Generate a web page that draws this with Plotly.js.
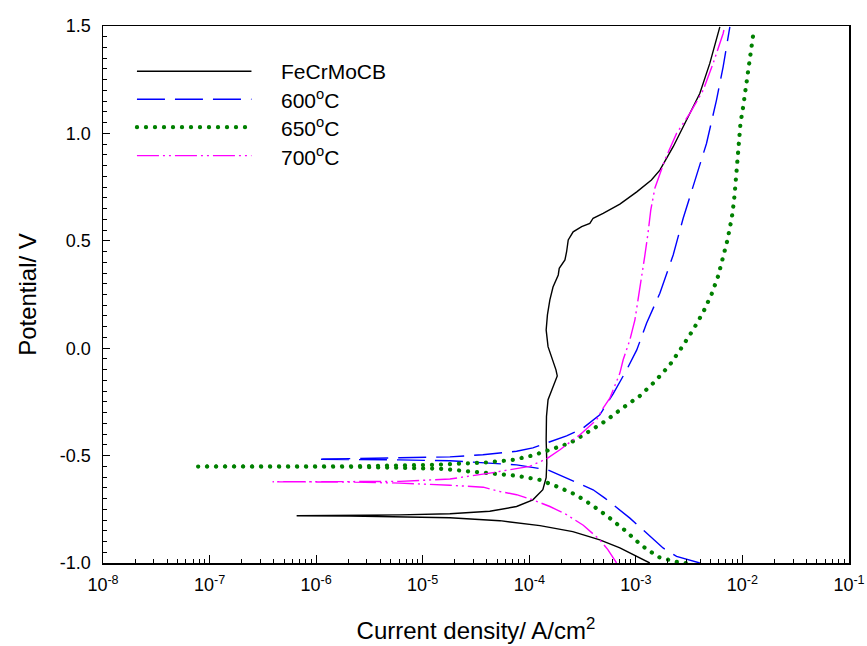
<!DOCTYPE html>
<html>
<head>
<meta charset="utf-8">
<script src="https://cdn.plot.ly/plotly-3.0.1.min.js"></script>
<style>html,body{margin:0;padding:0;background:#fff;}#chart{width:867px;height:646px;}</style>
</head>
<body>
<div id="chart"></div>
<script>
// ---- data: current density (A/cm^2) and potential (V) ----
const fecrmocbI = [1.35e-3,1.02e-3,7.08e-4,4.59e-4,2.56e-4,1.26e-4,5.30e-5,1.80e-5,6.11e-6,2.07e-6,6.56e-7,
  2.07e-6,6.11e-6,1.80e-5,4.26e-5,7.60e-5,1.08e-4,1.34e-4,1.44e-4,1.46e-4,1.44e-4,1.45e-4,1.50e-4,1.63e-4,1.83e-4,1.78e-4,1.62e-4,1.50e-4,1.44e-4,1.48e-4,1.56e-4,1.67e-4,1.87e-4,1.91e-4,2.16e-4,2.24e-4,2.32e-4,2.58e-4,3.10e-4,3.70e-4,3.97e-4,4.93e-4,7.08e-4,1.02e-3,1.40e-3,1.68e-3,2.24e-3,2.99e-3,3.98e-3,4.94e-3,6.14e-3];
const fecrmocbE = [-1.000,-0.969,-0.930,-0.892,-0.854,-0.826,-0.803,-0.789,-0.784,-0.781,-0.780,
  -0.779,-0.776,-0.771,-0.759,-0.737,-0.706,-0.659,-0.603,-0.534,-0.426,-0.318,-0.240,-0.194,-0.129,-0.101,-0.039,0.007,0.085,0.155,0.225,0.285,0.341,0.372,0.411,0.449,0.504,0.542,0.566,0.581,0.605,0.628,0.671,0.728,0.783,0.829,0.938,1.062,1.186,1.326,1.496];

const t600I = [3.98e-3,2.41e-3,1.80e-3,1.09e-3,8.79e-4,5.12e-4,3.97e-4,2.24e-4,1.49e-4,7.60e-5,1.80e-5,6.11e-6,1.01e-6,
  6.11e-6,1.80e-5,3.67e-5,7.60e-5,1.08e-4,1.56e-4,2.24e-4,3.10e-4,4.59e-4,6.12e-4,8.19e-4,1.02e-3,1.26e-3,1.68e-3,2.24e-3,2.78e-3,3.44e-3,4.60e-3,5.71e-3,6.59e-3,7.62e-3];
const t600E = [-1.000,-0.969,-0.930,-0.830,-0.791,-0.698,-0.659,-0.605,-0.566,-0.543,-0.524,-0.520,-0.517,
  -0.510,-0.506,-0.496,-0.480,-0.464,-0.436,-0.408,-0.377,-0.310,-0.213,-0.101,-0.008,0.116,0.256,0.434,0.605,0.752,0.953,1.155,1.310,1.496];

const t650I = [2.94e-3,2.41e-3,1.62e-3,1.13e-3,7.89e-4,5.50e-4,3.84e-4,2.68e-4,1.80e-4,1.26e-4,7.60e-5,3.97e-5,1.45e-5,2.07e-6,7.8e-8,
  2.07e-6,1.25e-5,3.97e-5,7.01e-5,1.08e-4,1.56e-4,2.40e-4,3.44e-4,5.12e-4,7.35e-4,1.09e-3,1.51e-3,2.08e-3,2.69e-3,3.44e-3,4.28e-3,5.13e-3,5.92e-3,6.59e-3,7.24e-3,7.78e-3,8.07e-3,8.43e-3,8.81e-3,9.18e-3,9.59e-3,1.016e-2,1.07e-2,1.13e-2,1.19e-2,1.26e-2];
const t650E = [-1.000,-0.995,-0.972,-0.918,-0.848,-0.785,-0.729,-0.680,-0.643,-0.613,-0.594,-0.580,-0.561,-0.552,-0.551,
  -0.550,-0.543,-0.532,-0.520,-0.499,-0.473,-0.442,-0.395,-0.341,-0.282,-0.222,-0.155,-0.078,0.003,0.085,0.167,0.251,0.336,0.419,0.504,0.584,0.628,0.710,0.834,0.958,1.047,1.124,1.209,1.291,1.372,1.457];

const t700I = [6.59e-4,5.46e-4,4.59e-4,3.21e-4,2.24e-4,1.56e-4,1.08e-4,7.60e-5,5.30e-5,3.70e-5,1.80e-5,6.11e-6,2.07e-6,3.9e-7,
  2.07e-6,6.11e-6,1.80e-5,4.58e-5,8.17e-5,1.01e-4,1.45e-4,1.94e-4,2.40e-4,2.99e-4,4.28e-4,4.93e-4,5.70e-4,6.35e-4,7.08e-4,7.60e-4,8.79e-4,9.80e-4,1.09e-3,1.21e-3,1.30e-3,1.38e-3,1.51e-3,1.87e-3,2.41e-3,3.21e-3,4.28e-3,5.31e-3,6.59e-3,6.84e-3];
const t700E = [-1.000,-0.938,-0.892,-0.824,-0.775,-0.737,-0.706,-0.682,-0.667,-0.647,-0.638,-0.628,-0.623,-0.622,
  -0.621,-0.620,-0.609,-0.579,-0.558,-0.550,-0.515,-0.473,-0.438,-0.403,-0.333,-0.279,-0.233,-0.179,-0.116,-0.054,0.039,0.132,0.271,0.426,0.535,0.643,0.746,0.876,1.000,1.093,1.201,1.326,1.465,1.500];

const seriesNames = ['FeCrMoCB','600<sup>o</sup>C','650<sup>o</sup>C','700<sup>o</sup>C'];
const xTickVals = [1e-8,1e-7,1e-6,1e-5,1e-4,1e-3,1e-2,1e-1];
const xTickText = ['10<sup>-8</sup>','10<sup>-7</sup>','10<sup>-6</sup>','10<sup>-5</sup>','10<sup>-4</sup>','10<sup>-3</sup>','10<sup>-2</sup>','10<sup>-1</sup>'];
const yTickVals = [-1.0,-0.5,0.0,0.5,1.0,1.5];
const yTickText = ['-1.0','-0.5','0.0','0.5','1.0','1.5'];

// ---- styles ----
const styles = [
  {color:'#000000', width:1.4, dash:'solid'},
  {color:'#0000ff', width:1.4, dash:'28px,10px'},
  {color:'#008000', width:4.2, dash:'0.1px,8.9px'},
  {color:'#ff00ff', width:1.4, dash:'22px,4px,2px,4px,2px,4px'}
];
const xs = [fecrmocbI,t600I,t650I,t700I];
const ys = [fecrmocbE,t600E,t650E,t700E];

const traces = xs.map((x,i)=>({
  x:x, y:ys[i], type:'scatter', mode:'lines', name:seriesNames[i],
  line:{color:styles[i].color, width:styles[i].width, dash:styles[i].dash},
  showlegend:false, hoverinfo:'skip'
}));

// custom legend (paper coords)
const legY = [0.9158,0.8637,0.8116,0.7586];
const shapes = [], annotations = [];
legY.forEach((y,i)=>{
  shapes.push({type:'line', xref:'paper', yref:'paper', x0:0.0455, x1:0.199, y0:y, y1:y,
    line:{color:styles[i].color, width:styles[i].width, dash:styles[i].dash}});
  annotations.push({xref:'paper', yref:'paper', x:0.236, y:y, xanchor:'left', yanchor:'middle',
    text:seriesNames[i], showarrow:false, font:{family:'Liberation Sans, Arial, sans-serif', size:21, color:'#000'}});
});

const font = {family:'Liberation Sans, Arial, sans-serif', color:'#000'};
const layout = {
  width:867, height:646,
  margin:{l:103, r:18, t:26, b:83, pad:0},
  paper_bgcolor:'#fff', plot_bgcolor:'#fff',
  font:font,
  showlegend:false,
  xaxis:{
    type:'log', range:[-8,-1], autorange:false,
    tickvals:xTickVals, ticktext:xTickText, tickfont:{size:18},
    ticks:'inside', ticklen:8, tickwidth:1.2, tickcolor:'#000', ticklabelstandoff:5,
    minor:{ticks:'inside', ticklen:4, tickwidth:1, tickcolor:'#000', dtick:'D1'},
    showline:true, linecolor:'#000', linewidth:1.5, mirror:true,
    showgrid:false, zeroline:false, automargin:false,
    title:{text:'Current density/ A/cm<sup>2</sup>', font:{size:24}, standoff:28}
  },
  yaxis:{
    range:[-1,1.5], autorange:false,
    tickvals:yTickVals, ticktext:yTickText, tickfont:{size:18},
    ticks:'inside', ticklen:7, tickwidth:1.2, tickcolor:'#000', ticklabelstandoff:7,
    minor:{ticks:'inside', ticklen:4, tickwidth:1, tickcolor:'#000', dtick:0.05},
    showline:true, linecolor:'#000', linewidth:1.5, mirror:true,
    showgrid:false, zeroline:false, automargin:false,
    title:{text:'Potential/ V', font:{size:24}, standoff:16}
  },
  shapes:shapes, annotations:annotations
};
Plotly.newPlot('chart', traces, layout, {staticPlot:true, displayModeBar:false}).then(()=>{
  // round caps so the dotted series draws as round dots
  document.querySelectorAll('#chart path').forEach(p=>{
    const s = (p.style.stroke||'').replace(/\s/g,'');
    if (s==='rgb(0,128,0)' || s==='#008000') p.style.strokeLinecap='round';
  });
});
</script>
</body>
</html>
